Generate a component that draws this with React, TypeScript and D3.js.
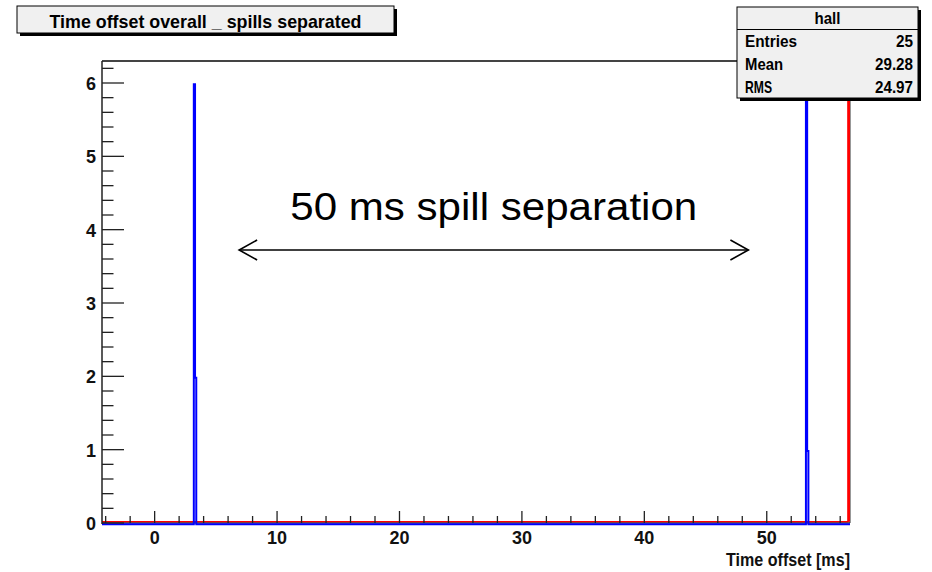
import React from "react";
import * as d3 from "d3";

const W = 932;
const H = 572;

// Axis ranges and ticks (time offset in ms, counts per bin)
const xDomain: [number, number] = [-4.3, 56.8];
const yDomain: [number, number] = [0, 6.3];
const xMajorTicks = [0, 10, 20, 30, 40, 50];
const xMinorStep = 2;
const yMajorTicks = [0, 1, 2, 3, 4, 5, 6];
const yMinorStep = 0.2;

// Histogram bins (bin width 0.1 ms): non-empty bins only
const binWidth = 0.1;
const blueBinStarts = [3.2, 3.3, 53.2, 53.3];
const blueCounts = [6, 2, 6, 1];
const redBinStarts = [56.7];
const redCounts = [9];

// Texts
const titleText = "Time offset overall _ spills separated";
const xAxisTitle = "Time offset [ms]";
const statsName = "hall";
const statsLabels = ["Entries", "Mean", "RMS"];
const statsLabelWidths = [52, 38, 27];
const statsValues = ["25", "29.28", "24.97"];
const statsValueWidths = [17, 38, 38];
const annotationText = "50 ms spill separation";
const arrowFrom = 6.9;
const arrowTo = 48.5;

const frame = { left: 102, right: 850, top: 61, bottom: 523 };
const FONT = "'Liberation Sans', Arial, Helvetica, sans-serif";
const NARROW = "'Liberation Sans Narrow', 'Liberation Sans', Arial, sans-serif";

function stepPoints(starts: number[], counts: number[]): [number, number][] {
  const pts: [number, number][] = [[xDomain[0], 0]];
  starts.forEach((s, i) => {
    const e = s + binWidth;
    const prevEnd = i > 0 ? starts[i - 1] + binWidth : null;
    if (prevEnd === null || Math.abs(prevEnd - s) > 1e-9) pts.push([s, 0]);
    pts.push([s, counts[i]]);
    pts.push([e, counts[i]]);
    const next = starts[i + 1];
    if (next === undefined || Math.abs(next - e) > 1e-9) pts.push([e, 0]);
  });
  pts.push([xDomain[1], 0]);
  return pts;
}

export default function App() {
  const x = d3.scaleLinear().domain(xDomain).range([frame.left, frame.right]);
  const y = d3.scaleLinear().domain(yDomain).range([frame.bottom, frame.top]);
  const line = d3
    .line<[number, number]>()
    .x((d) => x(d[0]))
    .y((d) => y(d[1]));

  const xMinor = d3.range(-4, xDomain[1], xMinorStep).filter((v) => !xMajorTicks.includes(v));
  const yMinor = d3
    .range(0, yDomain[1], yMinorStep)
    .map((v) => +v.toFixed(2))
    .filter((v) => !yMajorTicks.includes(v));

  const ax0 = x(arrowFrom);
  const ax1 = x(arrowTo);
  const ay = 250;

  const statsBox = { x: 737, y: 7, w: 181, h: 91 };
  const titleBox = { x: 17, y: 6, w: 377, h: 27 };

  return (
    <svg
      width={W}
      height={H}
      style={{ position: "fixed", left: 0, top: 0, background: "#fff" }}
      fontFamily={FONT}
    >
      <defs>
        <clipPath id="plotClip">
          <rect x={frame.left} y={frame.top} width={frame.right - frame.left + 2} height={frame.bottom - frame.top + 4} />
        </clipPath>
      </defs>
      <rect width={W} height={H} fill="#fff" />

      {/* frame */}
      <line x1={frame.left} x2={frame.right} y1={frame.top} y2={frame.top} stroke="#444" strokeWidth={2} />
      <line x1={frame.right} x2={frame.right} y1={frame.top} y2={frame.bottom} stroke="#333" strokeWidth={1} />

      {/* histograms */}
      <g clipPath="url(#plotClip)">
        <path
          d={line(stepPoints(redBinStarts, redCounts)) || ""}
          transform="translate(-0.8,-1.3)"
          fill="none"
          stroke="#ff0000"
          strokeWidth={1.6}
        />
        <line x1={frame.left} x2={frame.right} y1={frame.bottom} y2={frame.bottom} stroke="#000" strokeWidth={1.2} />
        <path
          d={line(stepPoints(blueBinStarts, blueCounts)) || ""}
          transform="translate(0,1.3)"
          fill="none"
          stroke="#0000ff"
          strokeWidth={2}
        />
      </g>

      {/* y axis */}
      <line x1={frame.left} x2={frame.left} y1={frame.top} y2={frame.bottom + 1} stroke="#222" strokeWidth={1.5} />
      {yMajorTicks.map((v) => (
        <g key={"ym" + v}>
          <line x1={frame.left} x2={frame.left + 22} y1={y(v)} y2={y(v)} stroke="#222" strokeWidth={1.3} />
          <text x={96} y={y(v) + 7} textAnchor="end" fontSize={18} fontFamily={NARROW} fontWeight="bold" fill="#111">
            {v}
          </text>
        </g>
      ))}
      {yMinor.map((v) => (
        <line key={"yn" + v} x1={frame.left} x2={frame.left + 11.5} y1={y(v)} y2={y(v)} stroke="#222" strokeWidth={1.3} />
      ))}

      {/* x axis ticks */}
      {xMajorTicks.map((v) => (
        <g key={"xm" + v}>
          <line x1={x(v)} x2={x(v)} y1={frame.bottom} y2={frame.bottom - 12} stroke="#222" strokeWidth={1.3} />
          <text x={x(v)} y={543.5} textAnchor="middle" fontSize={18} fontFamily={NARROW} fontWeight="bold" fill="#111">
            {v}
          </text>
        </g>
      ))}
      {xMinor.map((v) => (
        <line key={"xn" + v} x1={x(v)} x2={x(v)} y1={frame.bottom} y2={frame.bottom - 7} stroke="#222" strokeWidth={1.3} />
      ))}
      <text
        x={frame.right}
        y={566}
        textAnchor="end"
        fontSize={18}
        fontFamily={NARROW}
        fontWeight="bold"
        fill="#111"
        textLength={124}
        lengthAdjust="spacingAndGlyphs"
      >
        {xAxisTitle}
      </text>

      {/* annotation */}
      <text
        x={(ax0 + ax1) / 2}
        y={220}
        textAnchor="middle"
        fontSize={38}
        fill="#000"
        textLength={407}
        lengthAdjust="spacingAndGlyphs"
      >
        {annotationText}
      </text>
      <g stroke="#000" strokeWidth={1.6} fill="none">
        <line x1={ax0} x2={ax1} y1={ay} y2={ay} />
        <polyline points={`${ax0 + 18},${ay - 10} ${ax0},${ay} ${ax0 + 18},${ay + 10}`} />
        <polyline points={`${ax1 - 18},${ay - 10} ${ax1},${ay} ${ax1 - 18},${ay + 10}`} />
      </g>

      {/* title box */}
      <rect x={titleBox.x + 3} y={titleBox.y + 3} width={titleBox.w} height={titleBox.h} fill="#000" />
      <rect x={titleBox.x} y={titleBox.y} width={titleBox.w} height={titleBox.h} fill="#f0f0f0" stroke="#000" strokeWidth={1} />
      <text
        x={titleBox.x + titleBox.w / 2}
        y={titleBox.y + 21.5}
        textAnchor="middle"
        fontSize={19}
        fontFamily={NARROW}
        fontWeight="bold"
        fill="#000"
        textLength={312}
        lengthAdjust="spacingAndGlyphs"
      >
        {titleText}
      </text>

      {/* statistics box */}
      <rect x={statsBox.x + 3} y={statsBox.y + 3} width={statsBox.w} height={statsBox.h} fill="#000" />
      <rect x={statsBox.x} y={statsBox.y} width={statsBox.w} height={statsBox.h} fill="#f0f0f0" stroke="#000" strokeWidth={1} />
      <line x1={statsBox.x} x2={statsBox.x + statsBox.w} y1={29.5} y2={29.5} stroke="#000" strokeWidth={1} />
      <text
        x={statsBox.x + statsBox.w / 2}
        y={24}
        textAnchor="middle"
        fontSize={17}
        fontFamily={NARROW}
        fontWeight="bold"
        fill="#000"
        textLength={26}
        lengthAdjust="spacingAndGlyphs"
      >
        {statsName}
      </text>
      {statsLabels.map((lab, i) => (
        <g key={lab}>
          <text
            x={745}
            y={47 + i * 23}
            fontSize={17}
            fontFamily={NARROW}
            fontWeight="bold"
            fill="#000"
            textLength={statsLabelWidths[i]}
            lengthAdjust="spacingAndGlyphs"
          >
            {lab}
          </text>
          <text
            x={913}
            y={47 + i * 23}
            textAnchor="end"
            fontSize={17}
            fontFamily={NARROW}
            fontWeight="bold"
            fill="#000"
            textLength={statsValueWidths[i]}
            lengthAdjust="spacingAndGlyphs"
          >
            {statsValues[i]}
          </text>
        </g>
      ))}
    </svg>
  );
}
